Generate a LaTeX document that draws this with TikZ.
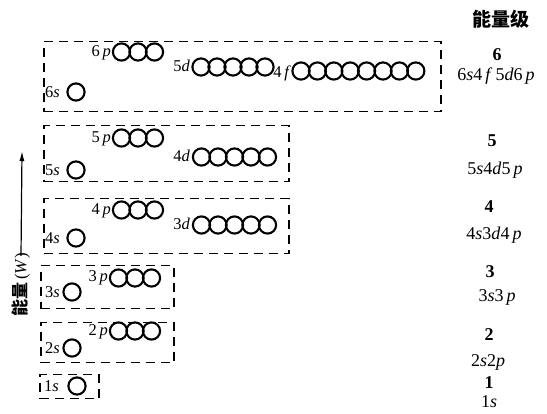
\documentclass[tikz,border=0pt]{standalone}
\usepackage{fontspec}
\setmainfont{Liberation Serif}
\newfontfamily\cjk{Noto Sans CJK SC}
\usetikzlibrary{arrows.meta}
\begin{document}
\begin{tikzpicture}[x=1pt,y=-1pt,
  orb/.style={circle,draw,line width=2.1pt,minimum size=17.2pt,inner sep=0pt},
  grp/.style={draw,line width=1.5pt,dash pattern=on 9pt off 6pt,inner sep=0pt,anchor=north west},
  lab/.style={inner sep=0pt,font=\fontsize{16.5}{16.5}\selectfont},
  lvl/.style={inner sep=0pt,font=\fontsize{18}{18}\selectfont\bfseries},
  cfg/.style={inner sep=0pt,font=\fontsize{18}{18}\selectfont},
]
\useasboundingbox (0,0) rectangle (547,414);
% ---- dashed groups
\node[grp,minimum width=397pt,minimum height=70pt] (b6) at (43,41) {};
\node[grp,minimum width=245pt,minimum height=56pt] (b5) at (43,125) {};
\node[grp,minimum width=245pt,minimum height=55pt] (b4) at (43,198) {};
\node[grp,minimum width=133pt,minimum height=43pt] (b3) at (40,265) {};
\node[grp,minimum width=133pt,minimum height=40pt] (b2) at (40,322) {};
\node[grp,minimum width=59pt,minimum height=24pt] (b1) at (39,374) {};
% ---- level 6
\node[lab,anchor=base west] (l6s) at (45,98) {6\textit{s}};
\node[orb] (o6s) at (76,92) {};
\node[lab,anchor=base east] (l6p) at (111,57) {6\,\textit{p}};
\foreach \i in {1,...,3} \node[orb] (o6p\i) at ({121.5+16.5*(\i-1)},52) {};
\node[lab,anchor=base east] (l5d) at (190,72) {5\textit{d}};
\foreach \i in {1,...,5} \node[orb] (o5d\i) at ({201+16*(\i-1)},67) {};
\node[lab,anchor=base east] (l4f) at (291,78) {4\,\textit{f}};
\foreach \i in {1,...,8} \node[orb] (o4f\i) at ({301+16.4*(\i-1)},71) {};
% ---- level 5
\node[lab,anchor=base west] (l5s) at (45,176) {5\textit{s}};
\node[orb] (o5s) at (76,170) {};
\node[lab,anchor=base east] (l5p) at (111,143) {5\,\textit{p}};
\foreach \i in {1,...,3} \node[orb] (o5p\i) at ({121.5+16.5*(\i-1)},138) {};
\node[lab,anchor=base east] (l4d) at (190,162) {4\textit{d}};
\foreach \i in {1,...,5} \node[orb] (o4d\i) at ({201.5+16.5*(\i-1)},157) {};
% ---- level 4
\node[lab,anchor=base west] (l4s) at (45,244) {4\textit{s}};
\node[orb] (o4s) at (76,238) {};
\node[lab,anchor=base east] (l4p) at (111,215) {4\,\textit{p}};
\foreach \i in {1,...,3} \node[orb] (o4p\i) at ({121.5+16.5*(\i-1)},210) {};
\node[lab,anchor=base east] (l3d) at (190,230) {3\textit{d}};
\foreach \i in {1,...,5} \node[orb] (o3d\i) at ({201.5+16.5*(\i-1)},225) {};
% ---- level 3
\node[lab,anchor=base west] (l3s) at (45,298) {3\textit{s}};
\node[orb] (o3s) at (72,292) {};
\node[lab,anchor=base east] (l3p) at (108,282) {3\,\textit{p}};
\foreach \i in {1,...,3} \node[orb] (o3p\i) at ({118.5+16.5*(\i-1)},278) {};
% ---- level 2
\node[lab,anchor=base west] (l2s) at (45,354) {2\textit{s}};
\node[orb] (o2s) at (72,348) {};
\node[lab,anchor=base east] (l2p) at (108,336) {2\,\textit{p}};
\foreach \i in {1,...,3} \node[orb] (o2p\i) at ({118.5+16.5*(\i-1)},331) {};
% ---- level 1
\node[lab,anchor=base west] (l1s) at (44,392) {1\textit{s}};
\node[orb] (o1s) at (77,386) {};
% ---- right column
\node[inner sep=0pt,font=\cjk\bfseries\fontsize{19}{19}\selectfont] (head) at (501,19) {能量级};
\node[lvl] (n6) at (497,55) {6};
\node[cfg] (c6) at (496,76) {6\textit{s}4\,\textit{f}\,5\textit{d}6\,\textit{p}};
\node[lvl] (n5) at (492,141) {5};
\node[cfg] (c5) at (495,170) {5\textit{s}4\textit{d}5\,\textit{p}};
\node[lvl] (n4) at (489,207) {4};
\node[cfg] (c4) at (494,235) {4\textit{s}3\textit{d}4\,\textit{p}};
\node[lvl] (n3) at (490,272) {3};
\node[cfg] (c3) at (497,297) {3\textit{s}3\,\textit{p}};
\node[lvl] (n2) at (489,335) {2};
\node[cfg] (c2) at (488,362) {2\textit{s}2\textit{p}};
\node[lvl] (n1) at (489,383) {1};
\node[cfg] (c1) at (489,402) {1\textit{s}};
% ---- energy axis
\node[rotate=90,inner sep=0pt,font=\fontsize{17}{17}\selectfont] (ax) at (21,285) {{\cjk\bfseries 能量}\,(\textit{W})};
\coordinate (tip) at (22,151);
\draw[line width=1.2pt,-{Latex[length=10pt,width=5pt]}] (ax.east) ++(0,-3pt) coordinate (axs) (axs) -- (tip);
\end{tikzpicture}
\end{document}
